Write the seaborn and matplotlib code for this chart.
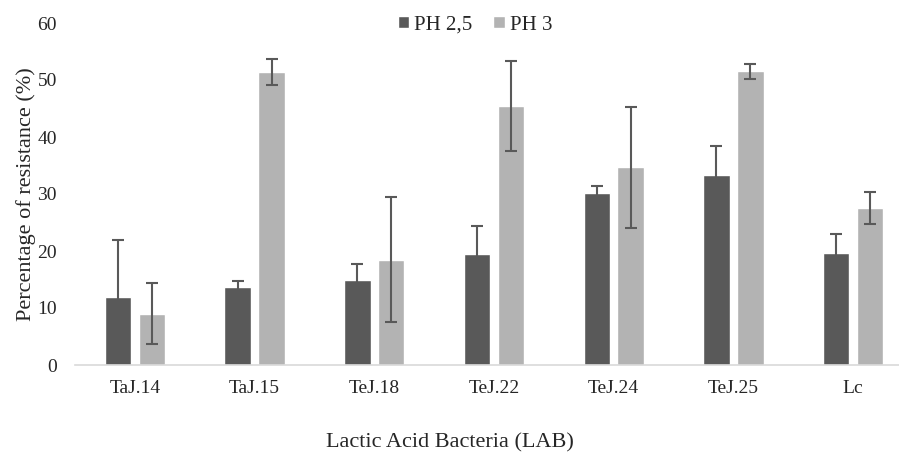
import pandas as pd
import numpy as np
import matplotlib.pyplot as plt
import seaborn as sns

# Values
strains = ['TaJ.14', 'TaJ.15', 'TeJ.18', 'TeJ.22', 'TeJ.24', 'TeJ.25', 'Lc']
ph25 = [11.9, 13.7, 15.0, 19.5, 30.2, 33.3, 19.7]
ph25_err = [10.0, 1.0, 2.8, 4.8, 1.2, 5.2, 3.3]
ph3 = [9.0, 51.4, 18.5, 45.4, 34.7, 51.5, 27.5]
ph3_err = [5.3, 2.3, 10.9, 7.9, 10.6, 1.3, 2.8]
groups = ['PH 2,5', 'PH 3']

df = pd.DataFrame({
    'strain': strains * 2,
    'pH': [groups[0]] * len(strains) + [groups[1]] * len(strains),
    'value': ph25 + ph3,
    'err': ph25_err + ph3_err,
})

sns.set_style('white')
plt.rcParams['font.family'] = ['Liberation Serif', 'DejaVu Serif']

fig = plt.figure(figsize=(8.99, 4.54), dpi=100)
ax = fig.add_axes([75 / 899, 1 - 365 / 454, 838 / 899, 342 / 454])

palette = {groups[0]: '#595959', groups[1]: '#b3b3b3'}
sns.barplot(data=df, x='strain', y='value', hue='pH', palette=palette,
            width=0.567, gap=0.22, errorbar=None, saturation=1, ax=ax)

# Error bars at bar centres
for bars, g in zip(ax.containers, groups):
    sub = df[df['pH'] == g]
    xs = [b.get_x() + b.get_width() / 2 for b in bars]
    ax.errorbar(xs, sub['value'], yerr=sub['err'], fmt='none',
                ecolor='#595959', elinewidth=1.5, capsize=4, capthick=1.5)

ax.set_ylim(0, 60)
ax.set_yticks(range(0, 61, 10))
ax.set_xlim(-0.5, len(strains) - 0.5)
ax.tick_params(axis='both', length=0, labelsize=14, colors='#262626')
ax.tick_params(axis='y', pad=13)
ax.tick_params(axis='x', pad=11)
for s in ['top', 'right', 'left']:
    ax.spines[s].set_visible(False)
ax.spines['bottom'].set_color('#d9d9d9')
ax.spines['bottom'].set_linewidth(1.2)

ax.set_xlabel('Lactic Acid Bacteria (LAB)', fontsize=16, color='#262626', labelpad=26)
ax.xaxis.label.set_x((450 - 75) / 838)
ax.set_ylabel('Percentage of resistance (%)', fontsize=16, color='#262626', labelpad=1)

ax.legend(loc='center', bbox_to_anchor=(475 / 899, 1 - 25 / 454),
          bbox_transform=fig.transFigure, ncol=2, frameon=False,
          fontsize=15, handlelength=0.55, handleheight=0.55,
          handletextpad=0.25, columnspacing=1.0, labelcolor='#262626')

fig.savefig('out.png', dpi=100)
